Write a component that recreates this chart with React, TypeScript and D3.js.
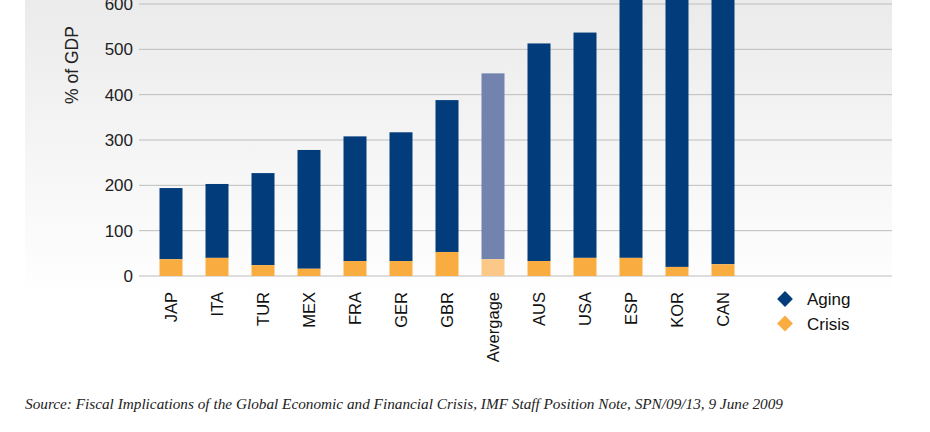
import React from "react";
import * as d3 from "d3";

const categories = ["JAP", "ITA", "TUR", "MEX", "FRA", "GER", "GBR", "Avergage", "AUS", "USA", "ESP", "KOR", "CAN"];
const crisis = [37, 40, 24, 16, 33, 33, 53, 37, 33, 40, 40, 20, 26];
const aging = [157, 163, 203, 262, 275, 284, 335, 410, 480, 497, 700, 800, 900];
const yTicks = [0, 100, 200, 300, 400, 500, 600];
const legendLabels = ["Aging", "Crisis"];
const sourceText = "Source: Fiscal Implications of the Global Economic and Financial Crisis, IMF Staff Position Note, SPN/09/13, 9 June 2009";

const W = 930;
const H = 432;
const NAVY = "#023c7a";
const ORANGE = "#f9ad41";
const NAVY_AVG = "#7284ae";
const ORANGE_AVG = "#fcc887";

export default function App() {
  const y = d3.scaleLinear().domain([0, 600]).range([276, 4]);
  const x = d3.scaleBand<string>().domain(categories).range([148, 746]).paddingInner(0.5).paddingOuter(0.25);
  const bw = x.bandwidth();
  const font = "'Liberation Sans', Arial, Helvetica, sans-serif";
  const data = categories.map((c, i) => ({ c, cr: crisis[i], ag: aging[i], avg: c === "Avergage" }));
  return (
    <svg width={W} height={H} style={{ position: "absolute", left: 0, top: 0 }}>
      <defs>
        <linearGradient id="bg" x1="0" y1="0" x2="0" y2="1">
          <stop offset="0" stopColor="#ebebeb" />
          <stop offset="0.75" stopColor="#fafafa" />
          <stop offset="1" stopColor="#ffffff" />
        </linearGradient>
        <clipPath id="clip">
          <rect x={0} y={0} width={W} height={H} />
        </clipPath>
      </defs>
      <rect x={0} y={0} width={W} height={H} fill="#fff" />
      <rect x={25} y={0} width={867} height={300} fill="url(#bg)" />
      {yTicks.map((t) => (
        <g key={t}>
          <line x1={139} x2={892} y1={y(t)} y2={y(t)} stroke="#bdbdbd" strokeWidth={1} />
          <text x={133} y={y(t)} dy="0.36em" textAnchor="end" fontFamily={font} fontSize={17} fill="#222">
            {t}
          </text>
        </g>
      ))}
      <text transform={`translate(78,65) rotate(-90)`} textAnchor="middle" fontFamily={font} fontSize={17.5} fill="#222">
        % of GDP
      </text>
      <g clipPath="url(#clip)">
        {data.map((d) => (
          <g key={d.c}>
            <rect x={x(d.c)} y={y(d.cr + d.ag)} width={bw} height={y(d.cr) - y(d.cr + d.ag)} fill={d.avg ? NAVY_AVG : NAVY} />
            <rect x={x(d.c)} y={y(d.cr)} width={bw} height={y(0) - y(d.cr)} fill={d.avg ? ORANGE_AVG : ORANGE} />
          </g>
        ))}
      </g>
      {categories.map((c) => (
        <text
          key={c}
          transform={`translate(${(x(c) as number) + bw / 2},292) rotate(-90)`}
          textAnchor="end"
          dy="0.36em"
          fontFamily={font}
          fontSize={16.5}
          fill="#111"
        >
          {c}
        </text>
      ))}
      {legendLabels.map((l, i) => (
        <g key={l} transform={`translate(785,${299 + i * 24.5})`}>
          <path d={d3.symbol(d3.symbolSquare, 125)() as string} transform="rotate(45)" fill={i === 0 ? NAVY : ORANGE} />
          <text x={22} dy="0.36em" fontFamily={font} fontSize={17} fill="#111">
            {l}
          </text>
        </g>
      ))}
      <text x={25} y={409} fontFamily="'Liberation Serif', 'DejaVu Serif', serif" fontStyle="italic" fontSize={15} fill="#222" textLength={758} lengthAdjust="spacingAndGlyphs">
        {sourceText}
      </text>
    </svg>
  );
}
